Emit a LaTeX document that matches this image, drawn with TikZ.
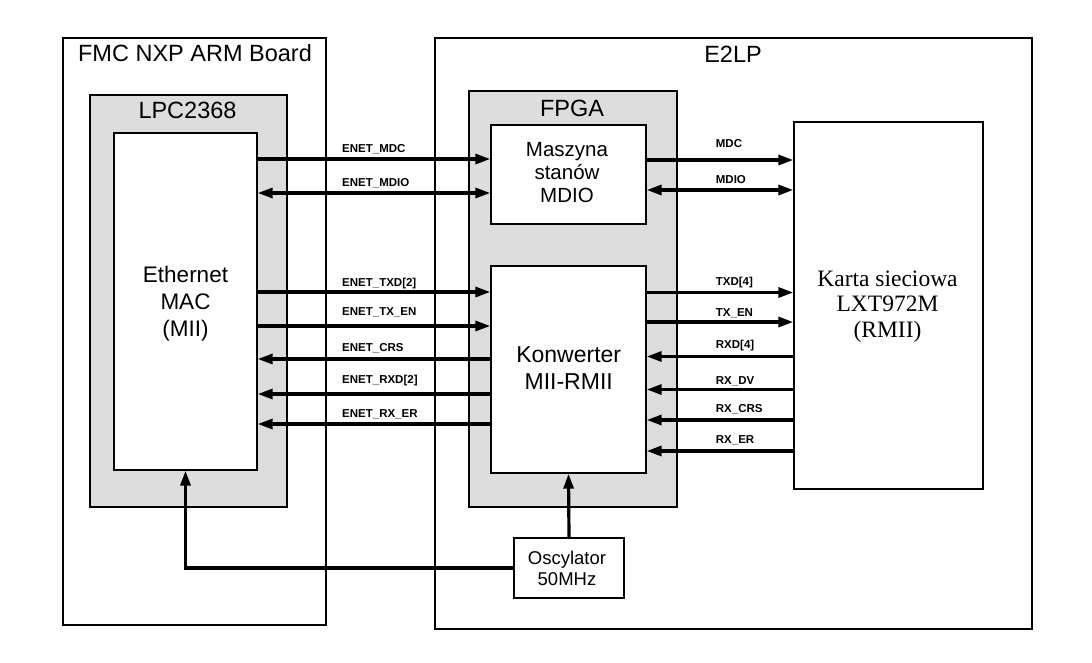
\documentclass[tikz,border=0pt]{standalone}
\usepackage{fontspec}
\setmainfont{Liberation Sans}
\newfontfamily\kartafont{Liberation Serif}
\usetikzlibrary{arrows.meta}
\definecolor{boxgray}{HTML}{DDDDDD}
\begin{document}
\begin{tikzpicture}[x=1pt,y=-1pt,
  box/.style={draw=black, line width=1.4pt, inner sep=0pt, fill=white},
  graybox/.style={box, fill=boxgray},
  title/.style={anchor=base, inner sep=0pt, font=\fontsize{23.5}{27}\selectfont},
  txt/.style={anchor=north, inner sep=0pt, align=center},
  sig/.style={line width=3.2pt, -{Triangle[length=15pt,width=10pt]}},
  bisig/.style={line width=3.2pt, {Triangle[length=15pt,width=10pt]}-{Triangle[length=15pt,width=10pt]}},
  lbl/.style={anchor=base west, inner sep=0pt, font=\bfseries\fontsize{11.5}{13}\selectfont},
]
\useasboundingbox (0,0) rectangle (1092,662);
\fill[white] (0,0) rectangle (1092,662);

% outer boards
\node[box, minimum width=263pt, minimum height=587pt] (fmc) at (194.5,331.5) {};
\node[box, minimum width=597pt, minimum height=591pt] (e2lp) at (733.5,333.5) {};
% gray chips
\node[graybox, minimum width=197pt, minimum height=412pt] (lpc) at (188.5,301) {};
\node[graybox, minimum width=208pt, minimum height=416pt] (fpga) at (573,299) {};
% inner blocks
\node[box, minimum width=143pt, minimum height=337pt] (mac) at (185.5,301.5) {};
\node[box, minimum width=155pt, minimum height=99pt] (msm) at (568.5,174.5) {};
\node[box, minimum width=155pt, minimum height=207pt] (konw) at (568.5,369.5) {};
\node[box, minimum width=189pt, minimum height=367pt] (karta) at (888.5,305.5) {};
\node[box, minimum width=110pt, minimum height=60pt] (osc) at (569,568) {};

% titles
\node[title] (tfmc) at (195,61.7) {FMC NXP ARM Board};
\node[title] (te2lp) at (733,62.7) {E2LP};
\node[title] (tlpc) at (187.5,118.3) {LPC2368};
\node[title] (tfpga) at (572,116) {FPGA};

% block texts
\node[txt, font=\fontsize{22.5}{27}\selectfont] (tmac) at (185.5,265.6) {Ethernet\\MAC\\(MII)};
\node[txt, font=\fontsize{20.5}{23}\selectfont] (tmsm) at (567,142) {Maszyna\\stanów\\MDIO};
\node[txt, font=\fontsize{23}{27}\selectfont] (tkonw) at (568.7,346.2) {Konwerter\\MII-RMII};
\node[txt, font=\kartafont\fontsize{23.5}{25.5}\selectfont] (tkarta) at (887.5,270.3) {Karta sieciowa\\LXT972M\\(RMII)};
\node[txt, font=\fontsize{18.5}{21}\selectfont] (tosc) at (567,550.6) {Oscylator\\50MHz};

% MAC <-> FPGA signals
\draw[sig]   (mac.east |- 0,159) -- (msm.west |- 0,159);
\draw[bisig] (mac.east |- 0,193) -- (msm.west |- 0,193);
\draw[sig]   (mac.east |- 0,292) -- (konw.west |- 0,292);
\draw[sig]   (mac.east |- 0,326) -- (konw.west |- 0,326);
\draw[sig]   (konw.west |- 0,359) -- (mac.east |- 0,359);
\draw[sig]   (konw.west |- 0,394) -- (mac.east |- 0,394);
\draw[sig]   (konw.west |- 0,424) -- (mac.east |- 0,424);

\node[lbl] (l1) at (342,152.3) {ENET\_MDC};
\node[lbl] (l2) at (342,186) {ENET\_MDIO};
\node[lbl] (l3) at (342,286.5) {ENET\_TXD[2]};
\node[lbl] (l4) at (342,315.7) {ENET\_TX\_EN};
\node[lbl] (l5) at (342,351.7) {ENET\_CRS};
\node[lbl] (l6) at (342,383.7) {ENET\_RXD[2]};
\node[lbl] (l7) at (342,417) {ENET\_RX\_ER};

% FPGA <-> PHY signals
\draw[sig]   (msm.east |- 0,160) -- (karta.west |- 0,160);
\draw[bisig] (msm.east |- 0,190) -- (karta.west |- 0,190);
\draw[sig]   (konw.east |- 0,292.5) -- (karta.west |- 0,292.5);
\draw[sig]   (konw.east |- 0,322) -- (karta.west |- 0,322);
\draw[sig]   (karta.west |- 0,356.5) -- (konw.east |- 0,356.5);
\draw[sig]   (karta.west |- 0,389.5) -- (konw.east |- 0,389.5);
\draw[sig]   (karta.west |- 0,420) -- (konw.east |- 0,420);
\draw[sig]   (karta.west |- 0,451) -- (konw.east |- 0,451);

\node[lbl] (r1) at (715.7,147.7) {MDC};
\node[lbl] (r2) at (715.7,183.3) {MDIO};
\node[lbl] (r3) at (715.7,285.5) {TXD[4]};
\node[lbl] (r4) at (715.7,316) {TX\_EN};
\node[lbl] (r5) at (715.7,348.7) {RXD[4]};
\node[lbl] (r6) at (715.7,384) {RX\_DV};
\node[lbl] (r7) at (715.7,412.7) {RX\_CRS};
\node[lbl] (r8) at (715.7,443.7) {RX\_ER};

% clock
\draw[sig] (osc.north) -- (konw.south);
\draw[sig] (osc.west) -| (mac.south);
\end{tikzpicture}
\end{document}
